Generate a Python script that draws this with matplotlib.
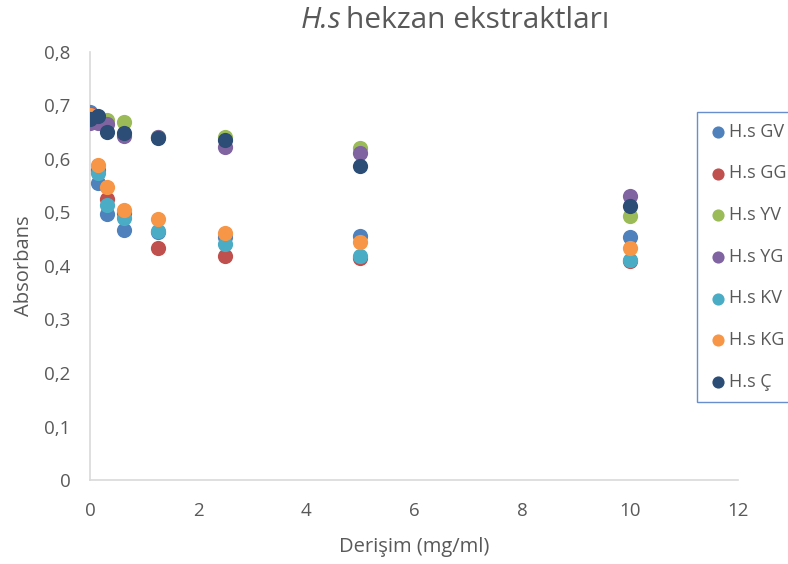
import matplotlib
matplotlib.use("Agg")
import matplotlib.pyplot as plt
from matplotlib.ticker import FuncFormatter, MultipleLocator

plt.rcParams['font.family'] = ['Open Sans', 'DejaVu Sans']

x = [0, 0.15625, 0.3125, 0.625, 1.25, 2.5, 5, 10]

series_names = ["H.s GV", "H.s GG", "H.s YV", "H.s YG", "H.s KV", "H.s KG", "H.s Ç"]
gv = [0.688, 0.555, 0.497, 0.467, 0.464, 0.455, 0.456, 0.454]
gg = [0.684, 0.580, 0.525, 0.500, 0.434, 0.419, 0.415, 0.410]
yv = [0.675, 0.675, 0.672, 0.670, 0.642, 0.641, 0.620, 0.493]
yg = [0.667, 0.668, 0.665, 0.643, 0.641, 0.622, 0.611, 0.531]
kv = [0.680, 0.573, 0.514, 0.489, 0.466, 0.441, 0.419, 0.412]
kg = [0.683, 0.589, 0.548, 0.505, 0.487, 0.462, 0.444, 0.433]
c = [0.674, 0.680, 0.650, 0.648, 0.639, 0.636, 0.587, 0.512]
values = [gv, gg, yv, yg, kv, kg, c]
colors = ["#4F81BD", "#C0504D", "#9BBB59", "#8064A2", "#4BACC6", "#F79646", "#2C4D75"]

text_color = "#595959"

fig = plt.figure(figsize=(7.88, 5.64), dpi=100)
ax = fig.add_axes([90/788, 84/564, 648/788, 428/564])

for name, vals, col in zip(series_names, values, colors):
    ax.scatter(x, vals, s=120, color=col, label=name, linewidths=0, zorder=3)

ax.set_xlim(0, 12)
ax.set_ylim(0, 0.8)
ax.xaxis.set_major_locator(MultipleLocator(2))
ax.yaxis.set_major_locator(MultipleLocator(0.1))
ax.yaxis.set_major_formatter(FuncFormatter(lambda v, p: ("%.1f" % v).replace(".", ",") if abs(v) > 1e-9 else "0"))
ax.xaxis.set_major_formatter(FuncFormatter(lambda v, p: "%d" % round(v)))
ax.tick_params(length=0, labelsize=13.5, colors=text_color)
ax.tick_params(axis='x', pad=16)
ax.tick_params(axis='y', pad=14)
for s in ["top", "right"]:
    ax.spines[s].set_visible(False)
for s in ["left", "bottom"]:
    ax.spines[s].set_color("#D9D9D9")
    ax.spines[s].set_linewidth(1.2)

ax.set_xlabel("Derişim (mg/ml)", fontsize=14.5, color=text_color, labelpad=12)
ax.set_ylabel("Absorbans", fontsize=14.5, color=text_color, labelpad=7)

ty = 1 - 20/564
fig.text(301/788, ty, "H.s", fontsize=21.5, color=text_color, style="italic",
         ha="left", va="center")
fig.text(346/788, ty, "hekzan ekstraktları", fontsize=21.5, color=text_color,
         ha="left", va="center")

leg = fig.legend(loc="upper left", bbox_to_anchor=(697/788, 1 - 112/564), frameon=True,
                 fontsize=13, labelspacing=1.31, handletextpad=0.05, markerscale=0.8,
                 borderpad=0.6, handlelength=1.1, fancybox=False, borderaxespad=0)
leg.get_frame().set_edgecolor("#4472C4")
leg.get_frame().set_linewidth(1.0)
for t in leg.get_texts():
    t.set_color(text_color)

fig.savefig("out.png", dpi=100)
